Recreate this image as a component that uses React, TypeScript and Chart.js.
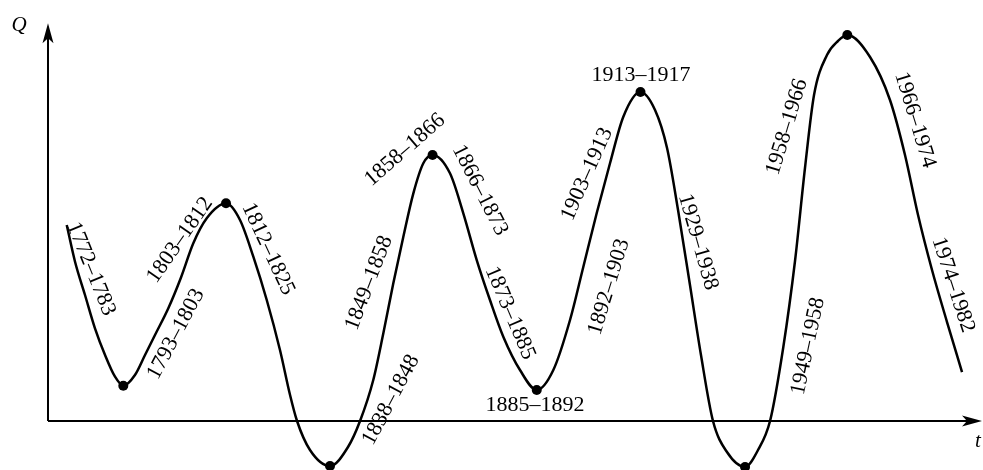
import React, { useEffect, useRef } from "react";
import { Chart, registerables } from "chart.js";

Chart.register(...registerables);

// Curve samples: time t (axis units) and level Q
const tValues = [
  2.01, 2.9, 3.97, 5.04, 6.12, 7.19, 8.08,
  9.33, 10.41, 11.48, 12.91, 14.27, 15.59, 17.03, 19.1,
  20.6, 22.03, 23.47, 24.89, 25.97, 26.72, 28.11, 30.26,
  32.19, 33.48, 34.9, 35.98, 37.05, 38.12, 39.2, 40.27, 41.26,
  43.13, 44.56, 46.0, 47.42, 48.85, 50.64, 52.44,
  54.22, 56.01, 57.44, 58.87, 60.3, 61.73, 63.57,
  65.13, 66.42, 67.6, 68.88, 70.06, 71.35, 72.85, 74.79,
  76.18, 77.47, 78.9, 80.15, 81.22, 82.19, 83.58, 84.76, 85.76,
  88.2, 90.34, 91.95, 93.35, 94.85, 96.46, 98.07,
];
const qValues = [
  50.26, 40.85, 32.31, 23.77, 16.92, 11.36, 9.05,
  11.79, 16.92, 22.05, 28.9, 36.79, 45.56, 51.97, 55.82,
  51.54, 42.13, 31.03, 18.21, 6.67, 0, -7.44, -11.54,
  -6.67, 0, 10.51, 22.49, 35.31, 47.18, 58.38, 66.08, 68.21,
  63.51, 53.26, 41.28, 31.03, 21.62, 13.08, 7.95,
  13.08, 25.9, 39.56, 53.26, 66.08, 78.03, 84.36,
  79.74, 70.0, 54.1, 34.87, 16.92, 0, -7.95, -11.79,
  -7.44, 0, 19.05, 41.03, 64.87, 83.59, 93.85, 97.44, 98.97,
  93.33, 82.31, 68.21, 52.82, 38.72, 25.38, 12.56,
];

// Period labels written along the wave
const periodLabels = [
  "1772–1783", "1793–1803", "1803–1812", "1812–1825", "1838–1848", "1849–1858",
  "1858–1866", "1866–1873", "1873–1885", "1885–1892", "1892–1903", "1903–1913",
  "1913–1917", "1929–1938", "1949–1958", "1958–1966", "1966–1974", "1974–1982",
];
const periodLabelT = [
  4.61, 13.73, 14.16, 23.61, 36.8, 34.44, 38.3, 46.35, 49.57, 52.25, 60.19, 57.83,
  63.63, 69.74, 81.55, 79.29, 93.03, 97.1,
];
const periodLabelQ = [
  39.0, 22.3, 46.4, 44.1, 5.4, 35.4, 69.5, 59.2, 27.7, 4.1, 34.4, 63.3,
  88.7, 45.9, 19.2, 75.4, 77.2, 34.9,
];
const periodLabelAngle = [
  68, -62, -55, 65, -62, -69, -41, 63, 67, 0, -73, -66, 0, 74, -78, -73, 73, 72,
];

const axisTitleX = "t";
const axisTitleY = "Q";

const T_MIN = -5.15;
const T_MAX = 100.32;
const Q_MIN = -12.56;
const Q_MAX = 107.95;
const Q_ARROW = 102;

const SERIF = '"Liberation Serif", "DejaVu Serif", serif';

const axesPlugin = {
  id: "arrowAxes",
  beforeDatasetsDraw(chart: any) {
    const { ctx, scales } = chart;
    const xs = scales.x;
    const ys = scales.y;
    const x0 = xs.getPixelForValue(0);
    const y0 = ys.getPixelForValue(0);
    const xEnd = xs.getPixelForValue(T_MAX) - 1;
    const yEnd = ys.getPixelForValue(Q_ARROW);
    ctx.save();
    ctx.strokeStyle = "#000";
    ctx.fillStyle = "#000";
    ctx.lineWidth = 2;
    ctx.beginPath();
    ctx.moveTo(x0, y0);
    ctx.lineTo(x0, yEnd + 10);
    ctx.moveTo(x0, y0);
    ctx.lineTo(xEnd - 10, y0);
    ctx.stroke();
    // arrow heads
    ctx.beginPath();
    ctx.moveTo(x0, yEnd);
    ctx.lineTo(x0 - 5.5, yEnd + 20);
    ctx.lineTo(x0, yEnd + 15);
    ctx.lineTo(x0 + 5.5, yEnd + 20);
    ctx.closePath();
    ctx.fill();
    ctx.beginPath();
    ctx.moveTo(xEnd, y0);
    ctx.lineTo(xEnd - 20, y0 - 5.5);
    ctx.lineTo(xEnd - 15, y0);
    ctx.lineTo(xEnd - 20, y0 + 5.5);
    ctx.closePath();
    ctx.fill();
    // axis titles
    ctx.font = `italic 21px ${SERIF}`;
    ctx.textAlign = "center";
    ctx.textBaseline = "middle";
    ctx.fillText(axisTitleY, x0 - 29, yEnd + 2);
    ctx.fillText(axisTitleX, xEnd - 4, y0 + 20);
    ctx.restore();
  },
};

const labelsPlugin = {
  id: "periodLabels",
  afterDatasetsDraw(chart: any) {
    const { ctx, scales } = chart;
    ctx.save();
    ctx.fillStyle = "#000";
    ctx.font = `22px ${SERIF}`;
    ctx.textAlign = "center";
    ctx.textBaseline = "middle";
    periodLabels.forEach((txt, i) => {
      const px = scales.x.getPixelForValue(periodLabelT[i]);
      const py = scales.y.getPixelForValue(periodLabelQ[i]);
      ctx.save();
      ctx.translate(px, py);
      ctx.rotate((periodLabelAngle[i] * Math.PI) / 180);
      ctx.fillText(txt, 0, 0);
      ctx.restore();
    });
    ctx.restore();
  },
};

export default function App() {
  const canvasRef = useRef<HTMLCanvasElement | null>(null);

  useEffect(() => {
    if (!canvasRef.current) return;
    const data = tValues.map((t, i) => ({ x: t, y: qValues[i] }));
    const chart = new Chart(canvasRef.current, {
      type: "line",
      data: {
        datasets: [
          {
            data,
            borderColor: "#000",
            backgroundColor: "#000",
            borderWidth: 2.5,
            fill: false,
            cubicInterpolationMode: "monotone",
            clip: false,
            pointRadius: (c: any) => {
              const i = c.dataIndex;
              const n = qValues.length;
              if (i <= 0 || i >= n - 1) return 0;
              const q = qValues[i];
              const isMax = q > qValues[i - 1] && q > qValues[i + 1];
              const isMin = q < qValues[i - 1] && q < qValues[i + 1];
              return isMax || isMin ? 5 : 0;
            },
            pointHoverRadius: 0,
            pointBorderWidth: 0,
          } as any,
        ],
      },
      options: {
        animation: false,
        responsive: true,
        maintainAspectRatio: false,
        layout: { padding: 0 },
        plugins: {
          legend: { display: false },
          tooltip: { enabled: false },
        },
        scales: {
          x: { type: "linear", min: T_MIN, max: T_MAX, display: false },
          y: { type: "linear", min: Q_MIN, max: Q_MAX, display: false },
        },
      },
      plugins: [axesPlugin, labelsPlugin],
    });
    return () => chart.destroy();
  }, []);

  return (
    <div
      style={{
        position: "fixed",
        left: 0,
        top: 0,
        width: 983,
        height: 470,
        background: "#fff",
      }}
    >
      <canvas ref={canvasRef} />
    </div>
  );
}
